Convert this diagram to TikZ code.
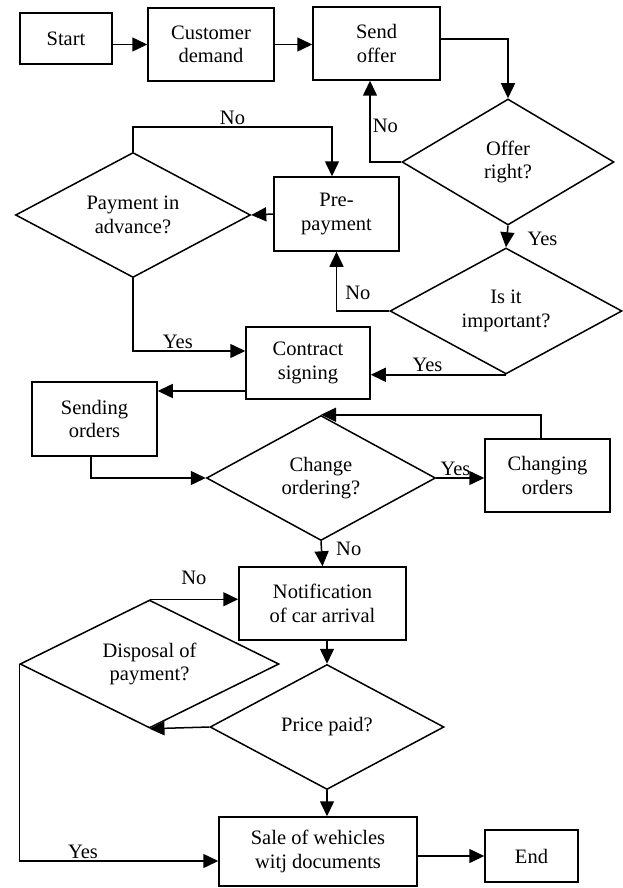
\documentclass[tikz,border=0pt]{standalone}
\usepackage{fontspec}
\setmainfont{Liberation Serif}
\usetikzlibrary{shapes.geometric,arrows.meta,positioning}

\begin{document}
\begin{tikzpicture}[x=1pt, y=-1pt, font=\fontsize{20.5}{23.5}\selectfont,
    box/.style={draw, line width=1.5pt, align=center, inner sep=0pt},
    dec/.style={diamond, draw, line width=1.5pt, align=center, inner sep=0pt, aspect=1.8},
    arr/.style={line width=1.5pt, -{Triangle[length=15pt,width=14pt]}},
    lbl/.style={inner sep=2pt}]
\useasboundingbox (0,0) rectangle (623,888);
% process boxes and decisions
\node[box, minimum width=92pt, minimum height=51pt] (start) at (66,38.5) {Start};
\node[box, minimum width=126pt, minimum height=73pt] (demand) at (211,44.5) {Customer\\demand};
\node[box, minimum width=127pt, minimum height=73pt] (offer) at (376.5,43.5) {Send\\offer};
\node[dec, minimum width=212pt, minimum height=126pt] (offerok) at (508,162) {Offer\\right?};
\node[dec, minimum width=235pt, minimum height=125pt] (advance) at (133,215) {Payment in\\advance?};
\node[box, minimum width=125pt, minimum height=74pt] (prepay) at (336.5,214) {Pre-\\payment};
\node[dec, minimum width=232pt, minimum height=126pt] (important) at (506,311) {Is it\\important?};
\node[box, minimum width=124pt, minimum height=72pt] (contract) at (308,363) {Contract\\signing};
\node[box, minimum width=125pt, minimum height=74pt] (sending) at (94.5,419) {Sending\\orders};
\node[dec, minimum width=229pt, minimum height=125pt] (changeq) at (321,478) {Change\\ordering?};
\node[box, minimum width=125pt, minimum height=73pt] (changing) at (547.5,475.5) {Changing\\orders};
\node[box, minimum width=167pt, minimum height=73pt] (notify) at (322.5,603.5) {Notification\\of car arrival};
\node[dec, minimum width=259pt, minimum height=128pt] (disposal) at (149.5,664) {Disposal of\\payment?};
\node[dec, minimum width=234pt, minimum height=125pt] (paid) at (327,727) {Price paid?};
\node[box, minimum width=198pt, minimum height=69pt] (sale) at (318,851.5) {Sale of wehicles\\witj documents};
\node[box, minimum width=93pt, minimum height=52pt] (finish) at (531.5,856) {End};
\coordinate (cs) at ([yshift=-28pt]contract.west);
% connectors
\draw[arr] (start.east |- demand.west) -- (demand.west);
\draw[arr] (demand.east) -- (demand.east -| offer.west);
\draw[arr] ([yshift=4.5pt]offer.east) -| (offerok.north);
\draw[arr] (offerok.west) -| ([xshift=-6.5pt]offer.south) node[lbl, pos=0.72, right] {No};
\draw[arr] (offerok.south) -- (important.north) node[lbl, pos=0.6, right=18pt] {Yes};
\draw[arr] (important.west) -| (prepay.south) node[lbl, pos=0.65, right=6pt] {No};
\draw[arr] (prepay.west) -- (advance.east);
\draw[arr] (advance.north) -- ++(0,-24.5) -| ([xshift=-4.5pt]prepay.north) node[lbl, pos=0.25, above] {No};
\draw[arr] (advance.south) |- ([yshift=12pt]contract.west) node[lbl, pos=0.7, above] {Yes};
\draw[arr] (important.south) -- (important.south -| contract.east) node[lbl, pos=0.58, above] {Yes};
\draw[arr] (cs) -- (cs -| sending.east);
\draw[arr] ([xshift=-3.5pt]sending.south) |- (changeq.west);
\draw[arr] ([xshift=-6.5pt]changing.north) |- (changeq.north);
\draw[arr] (changeq.east) -- (changeq.east -| changing.west) node[lbl, pos=0.4, above] {Yes};
\draw[arr] (changeq.south) -- (notify.north) node[lbl, pos=0.3, right=12pt] {No};
\draw[arr] (notify.south -| paid.north) -- (paid.north);
\draw[arr] (paid.west) -- (disposal.south);
\draw[arr] (disposal.north) -- (disposal.north -| notify.west) node[lbl, midway, above=12pt] {No};
\draw[arr] (disposal.west) |- ([yshift=-9.5pt]sale.west) node[lbl, pos=0.66, above] {Yes};
\draw[arr] (paid.south) -- (paid.south |- sale.north);
\draw[arr] (sale.east |- finish.west) -- (finish.west);
\end{tikzpicture}
\end{document}
